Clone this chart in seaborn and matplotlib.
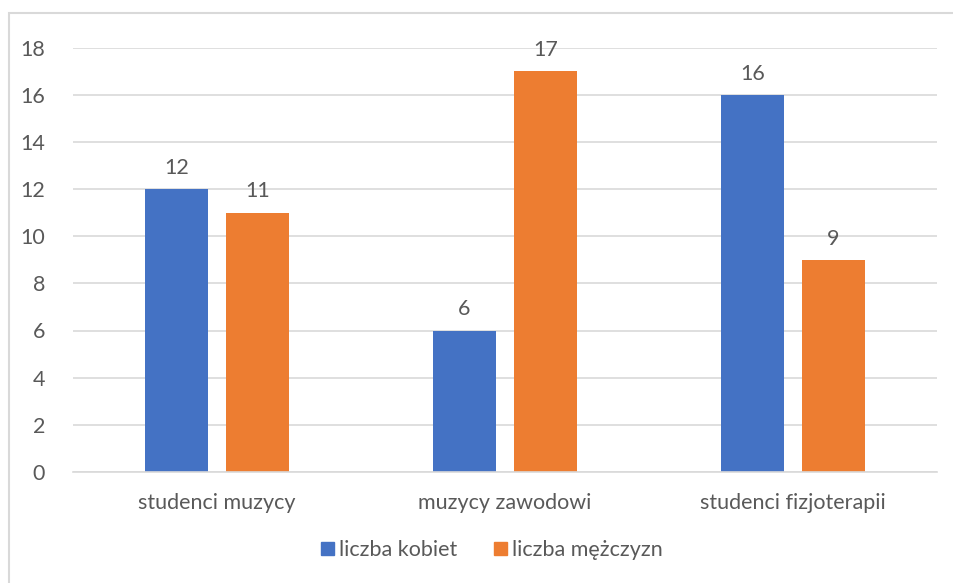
import matplotlib
matplotlib.use("Agg")
import matplotlib.pyplot as plt
import matplotlib.patches as mpatches
import seaborn as sns
import pandas as pd

categories = ["studenci muzycy", "muzycy zawodowi", "studenci fizjoterapii"]
series_names = ["liczba kobiet", "liczba mężczyzn"]
kobiety = [12, 6, 16]
mezczyzni = [11, 17, 9]
yticks = [0, 2, 4, 6, 8, 10, 12, 14, 16, 18]

colors = ["#4472C4", "#ED7D31"]
text_color = "#595959"
grid_color = "#D9D9D9"

df = pd.DataFrame({
    "kategoria": categories * 2,
    "seria": [series_names[0]] * 3 + [series_names[1]] * 3,
    "liczba": kobiety + mezczyzni,
})

sns.set_theme(style="white")
plt.rcParams["font.family"] = ["Lato", "DejaVu Sans"]
fs = 15.5

fig = plt.figure(figsize=(9.54, 5.83), dpi=100)
ax = fig.add_axes([73 / 954, 1 - 472 / 583, (937 - 73) / 954, (472 - 47.5) / 583])

sns.barplot(data=df, x="kategoria", y="liczba", hue="seria", order=categories,
            hue_order=series_names, palette=colors, width=0.5625, gap=0.222,
            saturation=1, linewidth=0, ax=ax, legend=False)

ax.set_ylim(0, 18)
ax.set_xlim(-0.5, 2.5)
ax.set_yticks(yticks)
ax.set_yticklabels([str(t) for t in yticks])
ax.yaxis.grid(True, color=grid_color, linewidth=1.2)
ax.set_axisbelow(True)
for s in ["top", "right", "left"]:
    ax.spines[s].set_visible(False)
ax.spines["bottom"].set_color(grid_color)
ax.spines["bottom"].set_linewidth(1.2)
ax.tick_params(axis="both", length=0, labelsize=fs, colors=text_color)
ax.tick_params(axis="x", pad=15)
ax.tick_params(axis="y", pad=20)
ax.set_xlabel("")
ax.set_ylabel("")

for container in ax.containers:
    ax.bar_label(container, fmt="%d", padding=8, fontsize=fs, color=text_color)

handles = [mpatches.Patch(color=c, label=n) for c, n in zip(colors, series_names)]
fig.legend(handles=handles, loc="center", bbox_to_anchor=(0.5 + 15 / 954, 1 - 550 / 583),
           ncol=2, frameon=False, fontsize=fs, labelcolor=text_color,
           handlelength=0.6, handleheight=0.6, handletextpad=0.25, columnspacing=1.7)

# outer chart frame
frame = mpatches.Rectangle((9 / 954, -0.02), 1.02, 1 - 13 / 583 + 0.02,
                           transform=fig.transFigure, fill=False,
                           edgecolor="#D9D9D9", linewidth=1.5, clip_on=False)
fig.patches.append(frame)

fig.savefig("out.png", dpi=100)
